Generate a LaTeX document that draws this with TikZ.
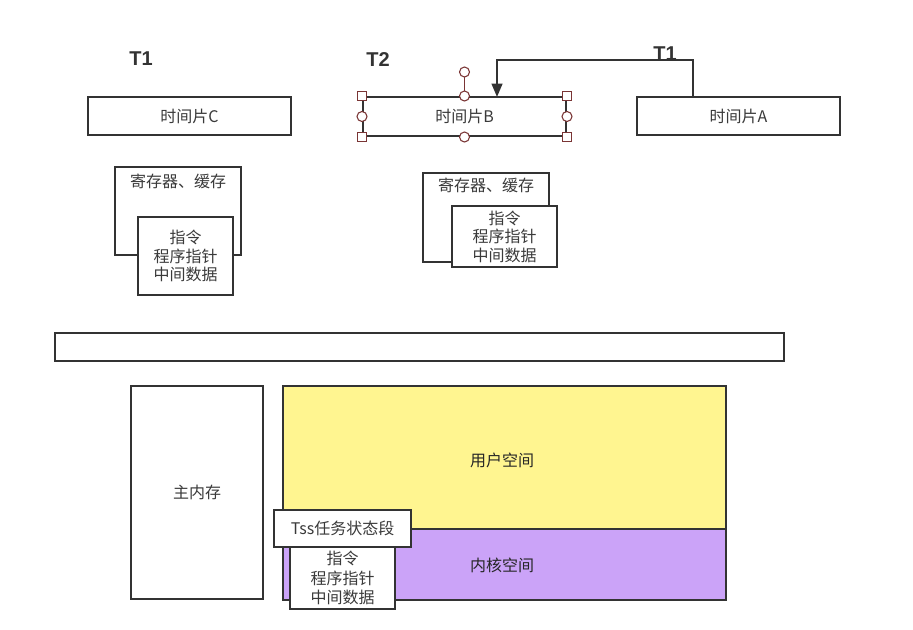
\documentclass[tikz,border=0pt]{standalone}
\usepackage{fontspec}
\setmainfont{Liberation Sans}
\newfontfamily\cjk{Noto Sans CJK SC}
\usetikzlibrary{arrows.meta}
\definecolor{edge}{HTML}{333333}
\definecolor{txtc}{HTML}{3A3A3A}
\definecolor{uyel}{HTML}{FFF590}
\definecolor{kpur}{HTML}{CBA3F8}
\definecolor{hand}{HTML}{7A3535}
\tikzset{
  box/.style={draw=edge, line width=1.5pt, fill=white, inner sep=0pt, rectangle},
  lbl/.style={font=\cjk\fontsize{12pt}{14.5pt}\selectfont, text=txtc, align=center, inner sep=0pt},
  tlbl/.style={font=\fontsize{15pt}{18pt}\selectfont\bfseries, text=edge, inner sep=0pt},
  arr/.style={draw=edge, line width=1.6pt, -{Triangle[length=10pt,width=8pt]}},
  sqh/.style={draw=hand, fill=white, line width=0.8pt, minimum size=6.5pt, inner sep=0pt, rectangle},
  cih/.style={draw=hand, fill=white, line width=0.8pt, minimum size=7.5pt, inner sep=0pt, circle},
}
\begin{document}
\begin{tikzpicture}[x=0.75pt,y=-0.75pt]
\useasboundingbox (0,0) rectangle (913,629);
% T labels
\node[tlbl] (t1c) at (141,59) {T1};
\node[tlbl] (t2b) at (378,60) {T2};
% time slices
\node[box, minimum width=152.25pt, minimum height=28.5pt] (C) at (189.5,116) {};
\node[lbl] (Ct) at (C.center) {时间片C};
\node[box, minimum width=152.25pt, minimum height=29.25pt] (B) at (464.5,116.5) {};
\node[lbl] (Bt) at (B.center) {时间片B};
\node[box, minimum width=152.25pt, minimum height=28.5pt] (A) at (738.5,116) {};
\node[lbl] (At) at (A.center) {时间片A};
% arrow from A to B
\coordinate (a1) at (693,97);
\coordinate (b1) at (497,97);
\draw[arr] (a1) -- ++(0,-37) -| (b1);
\node[tlbl, fill=none] (t1a) at (665,54) {T1};
% selection handles on B
\coordinate (rot) at (464.5,72);
\draw[hand, line width=0.8pt] (B.north) -- (rot);
\node[cih] (rh) at (rot) {};
\foreach \p in {north west,north east,south west,south east}
  \node[sqh] at (B.\p) {};
\foreach \p in {north,south,east,west}
  \node[cih] at (B.\p) {};
% registers left
\node[box, minimum width=94.5pt, minimum height=66pt] (R1) at (178,211) {};
\node[lbl] (R1t) at (178,181) {寄存器、缓存};
\node[box, minimum width=71.25pt, minimum height=58.5pt, lbl, draw=edge, fill=white, font=\cjk\fontsize{12pt}{13.9pt}\selectfont] (I1) at (185.5,256) {指令\\程序指针\\中间数据};
% registers right
\node[box, minimum width=94.5pt, minimum height=66.75pt] (R2) at (486,217.5) {};
\node[lbl] (R2t) at (486,185) {寄存器、缓存};
\node[box, minimum width=78.75pt, minimum height=45.75pt, lbl, draw=edge, fill=white, font=\cjk\fontsize{12pt}{13.9pt}\selectfont] (I2) at (504.5,236.5) {指令\\程序指针\\中间数据};
% long bar
\node[box, minimum width=546.75pt, minimum height=21pt] (bar) at (419.5,347) {};
% main memory
\node[box, minimum width=99pt, minimum height=159.75pt] (M) at (197,492.5) {};
\node[lbl] (Mt) at (M.center) {主内存};
% user / kernel space
\node[box, fill=uyel, minimum width=332.25pt, minimum height=107.25pt] (U) at (504.5,457.5) {};
\node[lbl, text=black!85] (Ut) at (502,460) {用户空间};
\node[box, fill=kpur, minimum width=332.25pt, minimum height=53.25pt] (K) at (504.5,564.5) {};
\node[lbl, text=black!85] (Kt) at (502,565) {内核空间};
% TSS
\node[box, minimum width=78.75pt, minimum height=51.75pt] (I3) at (342.5,574.5) {};
\node[lbl, font=\cjk\fontsize{12pt}{14.6pt}\selectfont] (I3t) at (342.5,578) {指令\\程序指针\\中间数据};
\node[box, minimum width=102.75pt, minimum height=27.75pt] (T) at (342.5,528.5) {};
\node[lbl] (Tt) at (T.center) {Tss任务状态段};
\end{tikzpicture}
\end{document}
